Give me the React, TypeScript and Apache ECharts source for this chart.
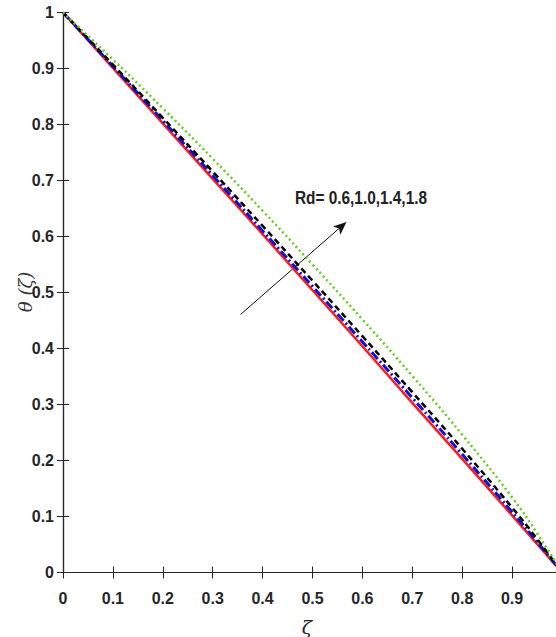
import React, { useEffect, useRef } from "react";
import * as echarts from "echarts";

const zeta = [0, 0.1, 0.2, 0.3, 0.4, 0.5, 0.6, 0.7, 0.8, 0.9, 0.95, 1.0];
const rd06 = [1, 0.901, 0.802, 0.703, 0.604, 0.504, 0.404, 0.303, 0.203, 0.102, 0.051, 0];
const rd10 = [1, 0.904, 0.807, 0.709, 0.610, 0.511, 0.412, 0.312, 0.211, 0.108, 0.055, 0];
const rd14 = [1, 0.907, 0.812, 0.716, 0.619, 0.521, 0.422, 0.322, 0.221, 0.116, 0.060, 0];
const rd18 = [1, 0.916, 0.829, 0.739, 0.646, 0.550, 0.452, 0.351, 0.246, 0.134, 0.070, 0];
const annotation = "Rd= 0.6,1.0,1.4,1.8";

const FONT = "'Liberation Sans Narrow', 'Liberation Sans', Arial, sans-serif";

function pairs(ys: number[]) {
  return zeta.map((x, i) => [x, ys[i]]);
}

export default function App() {
  const ref = useRef<HTMLDivElement>(null);
  useEffect(() => {
    if (!ref.current) return;
    const chart = echarts.init(ref.current, null, { renderer: "svg" });
    const axisLine = { show: true, lineStyle: { color: "#262626", width: 1.2 } };
    const axisLabel = { color: "#262626", fontFamily: FONT, fontWeight: "bold" as const, fontSize: 16 };
    const tip = [346.5, 222];
    const d = [0.754, -0.657];
    const n = [0.657, 0.754];
    const L = 13, W = 5.5;
    const base = [tip[0] - L * d[0], tip[1] - L * d[1]];
    const notch = [tip[0] - L * 0.75 * d[0], tip[1] - L * 0.75 * d[1]];
    chart.setOption({
      animation: false,
      backgroundColor: "#fff",
      grid: { left: 63, top: 12.5, width: 499, height: 560, containLabel: false },
      xAxis: [
        {
          type: "value", min: 0, max: 1, interval: 0.1, position: "bottom",
          axisLine, axisTick: { show: true, inside: true, length: 6, lineStyle: { color: "#262626" } },
          axisLabel: { ...axisLabel, margin: 18, showMaxLabel: false },
          splitLine: { show: false },
        },
        {
          type: "value", min: 0, max: 1, interval: 0.1, position: "top",
          axisLine, axisTick: { show: true, inside: true, length: 6, lineStyle: { color: "#262626" } },
          axisLabel: { show: false }, splitLine: { show: false },
        },
      ],
      yAxis: [
        {
          type: "value", min: 0, max: 1, interval: 0.1, position: "left",
          axisLine, axisTick: { show: true, inside: true, length: 6, lineStyle: { color: "#262626" } },
          axisLabel: { ...axisLabel, margin: 9 },
          splitLine: { show: false },
        },
        {
          type: "value", min: 0, max: 1, interval: 0.1, position: "right",
          axisLine, axisTick: { show: true, inside: true, length: 6 },
          axisLabel: { show: false }, splitLine: { show: false },
        },
      ],
      series: [
        { name: "Rd=0.6", type: "line", data: pairs(rd06), smooth: true, showSymbol: false,
          lineStyle: { color: "#ff1a1a", width: 2.5, type: "solid" } },
        { name: "Rd=1.0", type: "line", data: pairs(rd10), smooth: true, showSymbol: false,
          lineStyle: { color: "#1010d0", width: 3, type: [9, 3, 2, 3] } },
        { name: "Rd=1.4", type: "line", data: pairs(rd14), smooth: true, showSymbol: false,
          lineStyle: { color: "#000", width: 2.5, type: [6, 4] } },
        { name: "Rd=1.8", type: "line", data: pairs(rd18), smooth: true, showSymbol: false,
          lineStyle: { color: "#66cc22", width: 2.5, type: [2, 3] } },
      ],
      graphic: [
        { type: "line", shape: { x1: 240.5, y1: 314.5, x2: notch[0], y2: notch[1] },
          style: { stroke: "#111", lineWidth: 1 } },
        { type: "polygon", shape: { points: [
            tip,
            [base[0] + W * n[0], base[1] + W * n[1]],
            notch,
            [base[0] - W * n[0], base[1] - W * n[1]],
          ] }, style: { fill: "#111" } },
        { type: "text", x: 295, y: 197, scaleX: 0.81, style: { text: annotation, font: `bold 19px ${FONT}`,
          fill: "#222", textAlign: "left", textVerticalAlign: "middle" } },
        { type: "text", x: 25, y: 292, rotation: Math.PI / 2, style: { text: "θ (ζ)",
          font: "italic 18px 'DejaVu Serif', serif", fill: "#333", textAlign: "center", textVerticalAlign: "middle" } },
        { type: "text", x: 307, y: 627, style: { text: "ζ",
          font: "italic 19px 'DejaVu Serif', serif", fill: "#222", textAlign: "center", textVerticalAlign: "middle" } },
      ],
    });
    return () => chart.dispose();
  }, []);
  return (
    <div style={{ position: "absolute", left: 0, top: 0, width: 556, height: 637, overflow: "hidden", background: "#fff" }}>
      <div ref={ref} style={{ width: 580, height: 637 }} />
    </div>
  );
}
